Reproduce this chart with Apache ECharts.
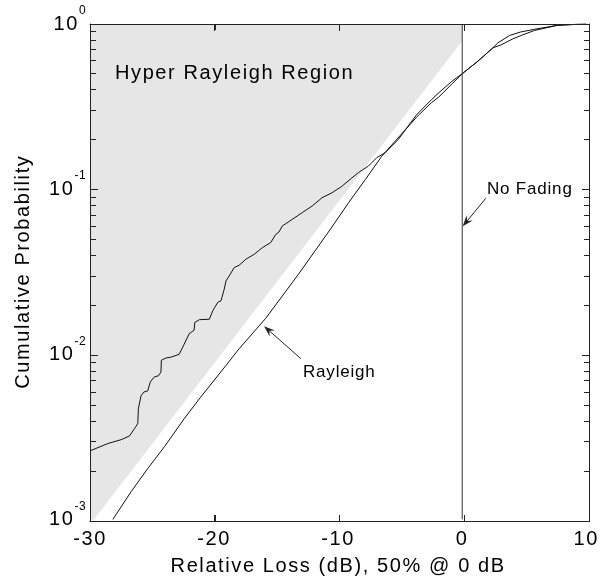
<!DOCTYPE html>
<html><head><meta charset="utf-8">
<script src="https://cdn.jsdelivr.net/npm/echarts@6/dist/echarts.min.js"></script>
<style>
html,body{margin:0;padding:0;background:#fff}
#wrap{position:relative;width:602px;height:582px}
#c,#f{position:absolute;left:0;top:0;width:602px;height:582px}
#f{pointer-events:none}
</style>
</head><body><div id="wrap"><div id="c"></div><div id="f"></div></div>
<script>
// ---- data ----
const xTickValues = [-30, -20, -10, 0, 10];
const yMajorTicks = [0.001, 0.01, 0.1, 1];
const yMinorTicks = [0.002,0.003,0.004,0.005,0.006,0.007,0.008,0.009,
                     0.02,0.03,0.04,0.05,0.06,0.07,0.08,0.09,
                     0.2,0.3,0.4,0.5,0.6,0.7,0.8,0.9];

const measuredX = [-30,-28.56,-27.49,-26.82,-26.42,-26.15,-26.1,-25.89,-25.67,-25.35,-25.14,-24.81,-24.49,-24.28,-24.25,-23.88,-23.48,-22.81,-22.41,-22.01,-21.61,-21.55,-21.18,-20.38,-20.11,-19.71,-19.44,-19.18,-19.04,-18.78,-18.38,-17.98,-17.44,-16.77,-16.11,-15.43,-15.03,-14.77,-14.5,-13.7,-12.9,-12.1,-11.3,-10.5,-9.7,-8.89,-8.36,-7.56,-6.89,-6.22,-5.69,-5.15,-3.68,-2.48,-1.94,-0.88,0,1.26,2.47,2.87,3.83,4.71,5.83,7.68,9.28,10];
const measuredY = [0.0026,0.00288,0.00304,0.0032,0.00354,0.0038,0.00468,0.0056,0.0059,0.006,0.0068,0.0073,0.0074,0.0078,0.0092,0.0095,0.0096,0.01,0.0115,0.0133,0.014,0.0156,0.0162,0.0163,0.0183,0.0206,0.0211,0.0248,0.0278,0.0298,0.0335,0.0346,0.0376,0.0403,0.0442,0.0475,0.0532,0.055,0.0598,0.0656,0.072,0.079,0.0887,0.095,0.104,0.117,0.126,0.138,0.155,0.166,0.182,0.2,0.282,0.348,0.38,0.447,0.5,0.595,0.717,0.768,0.853,0.895,0.929,0.982,0.996,1.0];

const rayleighX = [-28.16,-26.69,-25.35,-24.01,-22.41,-21.08,-19.07,-17.98,-15.84,-13.2,-10.63,-9.16,-7.82,-6.49,-5.41,-3.68,-2.48,-1.94,0,1.26,2.47,3.13,4.07,4.87,5.83,7.68,9.28,10];
const rayleighY = [0.001,0.00147,0.00203,0.00275,0.00407,0.0055,0.0085,0.0108,0.0165,0.0305,0.0571,0.0827,0.114,0.158,0.195,0.273,0.334,0.358,0.5,0.595,0.717,0.747,0.812,0.859,0.914,0.982,0.996,0.999];

const noFadingX = [0, 0];
const noFadingY = [0.001, 1];

const regionX = [-30, -29.68, 0, 0, -30];
const regionY = [0.001, 0.001, 0.79, 1, 1];

// arrows: [tailX, tailY, tipX, tipY]
const noFadingArrow = [1.9, 0.088, 0.04, 0.0595];
const rayleighArrow = [-13.0, 0.0094, -15.97, 0.0148];

const xAxisName = 'Relative Loss (dB), 50% @ 0 dB';
const yAxisName = 'Cumulative Probability';
const regionLabel = 'Hyper Rayleigh Region';
const noFadingLabel = 'No Fading';
const rayleighLabel = 'Rayleigh';

// ---- wide-set lettering like the original (canvas letterSpacing) ----
(function () {
  const P = CanvasRenderingContext2D.prototype;
  if (!('letterSpacing' in P)) return;
  const sp = ctx => {
    const m = /(\d+(?:\.\d+)?)px/.exec(ctx.font);
    const fs = m ? +m[1] : 12;
    return fs >= 19 ? '1.6px' : (fs >= 15 ? '0.8px' : '0.4px');
  };
  const ft = P.fillText, mt = P.measureText;
  P.fillText = function (t, x, y, w) {
    this.letterSpacing = sp(this);
    return w === undefined ? ft.call(this, t, x, y) : ft.call(this, t, x, y, w);
  };
  P.measureText = function (t) {
    this.letterSpacing = sp(this);
    return mt.call(this, t);
  };
})();

// ---- shared ----
const FONT = 'Liberation Sans, Arial, sans-serif';
const INK = '#222';
const GRID = {left: 90, right: 13, top: 24, bottom: 61, containLabel: false};
const pairs = (xs, ys) => xs.map((x, i) => [x, ys[i]]);
const px = v => Math.round(v - 0.5);
const hRule = (x1, x2, row) => ({type: 'rect', shape: {x: Math.min(x1, x2), y: row, width: Math.abs(x2 - x1) + 1, height: 1}, style: {fill: INK, stroke: null}});
const vRule = (col, y1, y2) => ({type: 'rect', shape: {x: col, y: Math.min(y1, y2), width: 1, height: Math.abs(y2 - y1) + 1}, style: {fill: INK, stroke: null}});

// ---- main chart: data, labels, annotations ----
const chart = echarts.init(document.getElementById('c'), null, {renderer: 'canvas'});
chart.setOption({
  animation: false,
  grid: GRID,
  xAxis: [{
    type: 'value', min: -30, max: 10, interval: 10, position: 'bottom',
    splitLine: {show: false}, axisLine: {show: false}, axisTick: {show: false},
    name: xAxisName, nameLocation: 'middle', nameGap: 36,
    nameTextStyle: {fontFamily: FONT, fontSize: 20, color: '#000'},
    axisLabel: {show: true, margin: 9, fontFamily: FONT, fontSize: 20, color: '#000'}
  }],
  yAxis: [{
    type: 'log', logBase: 10, min: 0.001, max: 1, position: 'left',
    splitLine: {show: false}, axisLine: {show: false}, axisTick: {show: false},
    name: yAxisName, nameLocation: 'middle', nameGap: 56, nameRotate: 90,
    nameTextStyle: {fontFamily: FONT, fontSize: 20, color: '#000'},
    axisLabel: {
      show: true, margin: 4,
      formatter: v => '{b|10}{s|' + Math.round(Math.log10(v)) + '}',
      rich: {
        b: {fontFamily: FONT, fontSize: 20, color: '#000'},
        s: {fontFamily: FONT, fontSize: 12, color: '#000', lineHeight: 12, padding: [0, 0, 26, 0]}
      }
    }
  }],
  series: [
    {
      type: 'custom', name: 'region', z: 1,
      data: pairs(regionX, regionY), encode: {x: 0, y: 1},
      renderItem: (params, api) => {
        if (params.dataIndex !== 0) return;
        const pts = regionX.map((x, i) => api.coord([x, regionY[i]]));
        return {type: 'polygon', shape: {points: pts}, style: {fill: '#e6e6e6', stroke: null}};
      }
    },
    {
      type: 'line', name: 'Measured', data: pairs(measuredX, measuredY),
      showSymbol: false, symbol: 'none', z: 3, clip: true,
      lineStyle: {color: '#111', width: 1}
    },
    {
      type: 'line', name: 'Rayleigh', data: pairs(rayleighX, rayleighY),
      showSymbol: false, symbol: 'none', z: 3, clip: true,
      lineStyle: {color: '#111', width: 1}
    },
    {
      type: 'line', name: 'No Fading', data: pairs(noFadingX, noFadingY),
      showSymbol: false, symbol: 'none', z: 3,
      lineStyle: {color: '#333', width: 1}
    },
    {
      type: 'custom', name: 'arrows', z: 15,
      data: [noFadingArrow, rayleighArrow], encode: {x: [0, 2], y: [1, 3]},
      renderItem: (params, api) => {
        const t = api.coord([api.value(0), api.value(1)]);
        const h = api.coord([api.value(2), api.value(3)]);
        const dx = h[0] - t[0], dy = h[1] - t[1];
        const len = Math.sqrt(dx * dx + dy * dy);
        const ux = dx / len, uy = dy / len, nx = -uy, ny = ux;
        const L = 11, W = 4, N = 7;
        const head = [
          h,
          [h[0] - ux * L + nx * W, h[1] - uy * L + ny * W],
          [h[0] - ux * N, h[1] - uy * N],
          [h[0] - ux * L - nx * W, h[1] - uy * L - ny * W]
        ];
        return {type: 'group', children: [
          {type: 'polyline', shape: {points: [t, [h[0] - ux * N, h[1] - uy * N]]}, style: {stroke: INK, lineWidth: 1, fill: null}},
          {type: 'polygon', shape: {points: head}, style: {fill: INK, stroke: null}}
        ]};
      }
    }
  ],
  graphic: [
    {type: 'text', left: 115, top: 63, z: 20, style: {text: regionLabel, font: '20px ' + FONT, fill: '#000'}},
    {type: 'text', left: 487, top: 180, z: 20, style: {text: noFadingLabel, font: '17px ' + FONT, fill: '#000'}},
    {type: 'text', left: 303, top: 363, z: 20, style: {text: rayleighLabel, font: '17px ' + FONT, fill: '#000'}}
  ]
});

// ---- overlay chart: plot box and ticks (same grid and scales) ----
const frameChart = echarts.init(document.getElementById('f'), null, {renderer: 'canvas'});
const xFrameAxis = pos => ({
  type: 'value', min: -30, max: 10, interval: 10, position: pos,
  splitLine: {show: false}, axisLabel: {show: false},
  axisLine: {show: true, onZero: false, lineStyle: {color: INK, width: 1}},
  axisTick: {show: true, inside: true, length: 6, lineStyle: {color: INK, width: 1}}
});
const yFrameAxis = pos => ({
  type: 'log', logBase: 10, min: 0.001, max: 1, position: pos,
  splitLine: {show: false}, axisLabel: {show: false},
  axisLine: {show: true, onZero: false, lineStyle: {color: INK, width: 1}},
  axisTick: {show: true, inside: true, length: 7, lineStyle: {color: INK, width: 1}}
});
frameChart.setOption({
  animation: false,
  backgroundColor: 'transparent',
  grid: GRID,
  xAxis: [xFrameAxis('bottom'), xFrameAxis('top')],
  yAxis: [yFrameAxis('left'), yFrameAxis('right')],
  series: [
    { // box edges as filled 1-px rules
      type: 'custom', name: 'frame', silent: true,
      data: [[-30, 0.001]], encode: {x: 0, y: 1},
      renderItem: (params, api) => {
        const a = api.coord([-30, 0.001]), b = api.coord([10, 1]);
        const L = px(a[0]), R = px(b[0]), B = px(a[1]), T = px(b[1]);
        return {type: 'group', children: [hRule(L, R, T), hRule(L, R, B), vRule(L, T, B), vRule(R, T, B)]};
      }
    },
    { // x ticks, both edges
      type: 'custom', name: 'xTicks', silent: true,
      data: xTickValues.map(v => [v, 0.001]), encode: {x: 0, y: 1},
      renderItem: (params, api) => {
        const v = api.value(0);
        const c = api.coord([v, 0.001]);
        const x = px(c[0]), B = px(c[1]), T = px(api.coord([v, 1])[1]);
        return {type: 'group', children: [vRule(x, B - 6, B), vRule(x, T, T + 6)]};
      }
    },
    { // y major ticks, both edges
      type: 'custom', name: 'yMajorTicks', silent: true,
      data: yMajorTicks.map(v => [-30, v]), encode: {x: 0, y: 1},
      renderItem: (params, api) => {
        const v = api.value(1);
        const c = api.coord([-30, v]);
        const y = px(c[1]), L = px(c[0]), R = px(api.coord([10, v])[0]);
        return {type: 'group', children: [hRule(L, L + 7, y), hRule(R - 7, R, y)]};
      }
    },
    { // y minor ticks, both edges
      type: 'custom', name: 'yMinorTicks', silent: true,
      data: yMinorTicks.map(v => [-30, v]), encode: {x: 0, y: 1},
      renderItem: (params, api) => {
        const v = api.value(1);
        const c = api.coord([-30, v]);
        const y = px(c[1]), L = px(c[0]), R = px(api.coord([10, v])[0]);
        return {type: 'group', children: [hRule(L, L + 5, y), hRule(R - 5, R, y)]};
      }
    }
  ]
});
</script>
</body></html>
